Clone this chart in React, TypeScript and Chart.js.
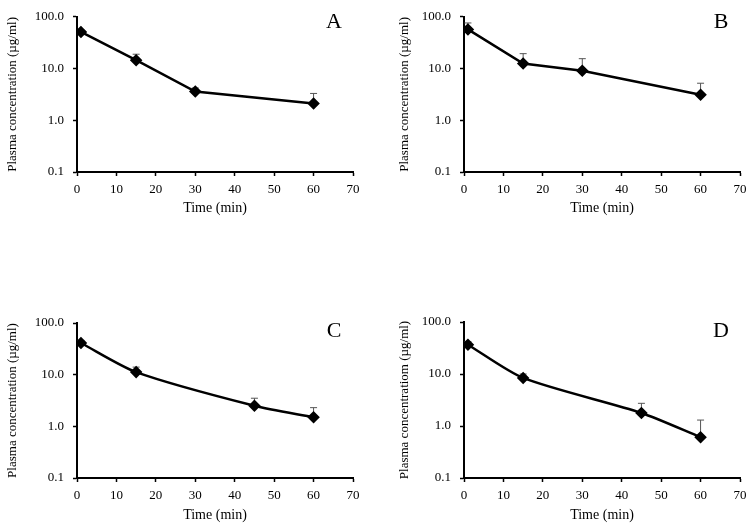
import React, { useEffect, useRef } from "react";
import { Chart, registerables } from "chart.js";

Chart.register(...registerables);

// ---- data ----
const timesAB = [1, 15, 30, 60];
const timesCD = [1, 15, 45, 60];

const concA = [51, 14.5, 3.6, 2.1];
const sdA = [4, 4.4, 0.6, 1.2];

const concB = [57, 12.5, 9.1, 3.1];
const sdB = [19, 6.9, 6.4, 2.1];

const concC = [41, 11.2, 2.5, 1.5];
const sdC = [5, 2.8, 1.0, 0.8];

const concD = [36.6, 8.4, 1.78, 0.61];
const sdD = [5.2, 1.6, 0.95, 0.69];

const yTicks = [0.1, 1, 10, 100];
const xMin = 0;
const xMax = 70;
const xStep = 10;

const yTitleStd = "Plasma concentration (µg/ml)";
const yTitleD = "Plasma concentratiom (µg/ml)";
const xTitle = "Time (min)";

const FONT = "'Liberation Serif', 'Times New Roman', serif";

const errorBarPlugin = {
  id: "errbars",
  beforeDatasetsDraw(chart: any, _args: any, opts: any) {
    const { ctx, scales } = chart;
    const x = scales.x;
    const y = scales.y;
    const ds = chart.data.datasets[0];
    const errs: number[] = opts.errs || [];
    ctx.save();
    ctx.strokeStyle = "#555";
    ctx.lineWidth = 1;
    ds.data.forEach((p: any, i: number) => {
      const e = errs[i];
      if (e == null) return;
      const px = x.getPixelForValue(p.x);
      const py0 = y.getPixelForValue(p.y);
      const py1 = y.getPixelForValue(p.y + e);
      ctx.beginPath();
      ctx.moveTo(px, py0);
      ctx.lineTo(px, py1);
      ctx.moveTo(px - 3.5, py1);
      ctx.lineTo(px + 3.5, py1);
      ctx.stroke();
    });
    ctx.restore();
  },
};

const panelLabelPlugin = {
  id: "panelLabel",
  afterDraw(chart: any, _args: any, opts: any) {
    const { ctx, chartArea } = chart;
    ctx.save();
    ctx.fillStyle = "#000";
    ctx.font = `22px ${FONT}`;
    ctx.textAlign = "center";
    ctx.textBaseline = "middle";
    ctx.fillText(opts.text, chartArea.right - 19, chartArea.top + (opts.dy || 5));
    ctx.restore();
  },
};

type PanelProps = {
  left: number;
  top: number;
  width: number;
  height: number;
  times: number[];
  conc: number[];
  sd: number[];
  label: string;
  yTitle: string;
  padLeft: number;
  padTop: number;
  padRight: number;
  padBottom: number;
  yWidth: number;
  xHeight: number;
  tension: number;
  labelDy: number;
};

function Panel(p: PanelProps) {
  const ref = useRef<HTMLCanvasElement | null>(null);
  useEffect(() => {
    if (!ref.current) return;
    const data = p.times.map((t, i) => ({ x: t, y: p.conc[i] }));
    const chart = new Chart(ref.current, {
      type: "line",
      data: {
        datasets: [
          {
            data,
            borderColor: "#000",
            backgroundColor: "#000",
            borderWidth: 2.5,
            pointStyle: "rectRot",
            pointRadius: 4.5,
            pointBackgroundColor: "#000",
            pointBorderColor: "#000",
            tension: p.tension,
            fill: false,
          },
        ],
      },
      options: {
        animation: false,
        responsive: true,
        maintainAspectRatio: false,
        layout: {
          padding: { left: p.padLeft, top: p.padTop, right: p.padRight, bottom: p.padBottom },
        },
        plugins: {
          legend: { display: false },
          tooltip: { enabled: false },
          errbars: { errs: p.sd },
          panelLabel: { text: p.label, dy: p.labelDy },
        } as any,
        scales: {
          x: {
            type: "linear",
            min: xMin,
            max: xMax,
            ticks: {
              stepSize: xStep,
              color: "#000",
              font: { family: FONT, size: 13 },
              padding: 6,
              maxRotation: 0,
            },
            grid: {
              drawOnChartArea: false,
              drawTicks: true,
              tickLength: 4,
              tickColor: "#000",
              tickWidth: 1.5,
            },
            border: { display: true, color: "#000", width: 2 },
            title: {
              display: true,
              text: xTitle,
              color: "#000",
              font: { family: FONT, size: 14 },
              padding: { top: 2, bottom: 3 },
            },
            afterFit: (s: any) => {
              s.height = p.xHeight;
            },
          },
          y: {
            type: "logarithmic",
            min: 0.1,
            max: 100,
            afterBuildTicks: (s: any) => {
              s.ticks = yTicks.map((v) => ({ value: v }));
            },
            ticks: {
              color: "#000",
              font: { family: FONT, size: 13 },
              padding: 9,
              callback: (v: any) => Number(v).toFixed(1),
            },
            grid: {
              drawOnChartArea: false,
              drawTicks: true,
              tickLength: 4,
              tickColor: "#000",
              tickWidth: 1.5,
            },
            border: { display: true, color: "#000", width: 2 },
            title: {
              display: true,
              text: p.yTitle,
              color: "#000",
              font: { family: FONT, size: 13 },
              padding: { top: 5, bottom: 2 },
            },
            afterFit: (s: any) => {
              s.width = p.yWidth;
            },
          },
        },
      },
      plugins: [errorBarPlugin, panelLabelPlugin],
    });
    return () => chart.destroy();
  }, []);
  return (
    <div
      style={{
        position: "absolute",
        left: p.left,
        top: p.top,
        width: p.width,
        height: p.height,
      }}
    >
      <canvas ref={ref} />
    </div>
  );
}

export default function App() {
  return (
    <div
      style={{
        position: "fixed",
        left: 0,
        top: 0,
        width: 755,
        height: 527,
        background: "#fff",
      }}
    >
      <Panel
        left={0}
        top={0}
        width={377}
        height={230}
        times={timesAB}
        conc={concA}
        sd={sdA}
        label="A"
        yTitle={yTitleStd}
        padLeft={0}
        padTop={16}
        padRight={24}
        padBottom={10}
        yWidth={77}
        xHeight={48}
        tension={0}
        labelDy={5}
      />
      <Panel
        left={377}
        top={0}
        width={378}
        height={230}
        times={timesAB}
        conc={concB}
        sd={sdB}
        label="B"
        yTitle={yTitleStd}
        padLeft={15}
        padTop={16}
        padRight={15}
        padBottom={10}
        yWidth={72}
        xHeight={48}
        tension={0}
        labelDy={5}
      />
      <Panel
        left={0}
        top={270}
        width={377}
        height={257}
        times={timesCD}
        conc={concC}
        sd={sdC}
        label="C"
        yTitle={yTitleStd}
        padLeft={0}
        padTop={53}
        padRight={24}
        padBottom={0}
        yWidth={77}
        xHeight={49}
        tension={0.25}
        labelDy={8}
      />
      <Panel
        left={377}
        top={270}
        width={378}
        height={257}
        times={timesCD}
        conc={concD}
        sd={sdD}
        label="D"
        yTitle={yTitleD}
        padLeft={15}
        padTop={52}
        padRight={15}
        padBottom={0}
        yWidth={72}
        xHeight={49}
        tension={0.25}
        labelDy={9}
      />
    </div>
  );
}
